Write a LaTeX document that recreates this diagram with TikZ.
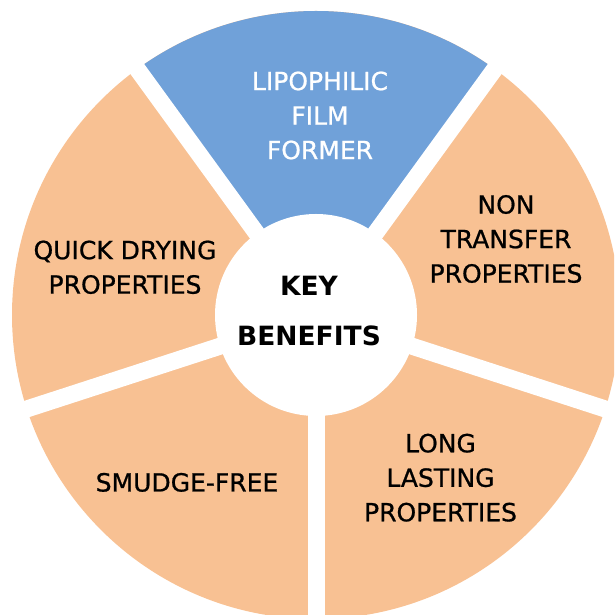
\documentclass[tikz,border=0pt]{standalone}
\usepackage{fontspec}
\setmainfont{DejaVu Sans}
\newfontfamily\heavyfont[FakeBold=0.8]{DejaVu Sans}
\definecolor{peach}{HTML}{F8C193}
\definecolor{skyblue}{HTML}{70A1D9}
\begin{document}
\begin{tikzpicture}[x=1pt,y=1pt,
  lbl/.style={align=center,text=black,font=\heavyfont\fontsize{25}{34.5}\selectfont},
  lblw/.style={lbl,text=white},
  keylbl/.style={align=center,text=black,font=\fontsize{26.5}{50}\selectfont\bfseries},
  gapband/.style={draw=white,line width=17pt}]
\useasboundingbox (0,0) rectangle (614,615);
\coordinate (c) at (316,300);
\begin{scope}
\clip (0,0) rectangle (614,615);
\fill[peach] (c) circle[radius=304];
\fill[skyblue] (c) -- ++(54:304) arc[start angle=54,end angle=126,radius=304] -- cycle;
\foreach \a in {54,126,198,270,342}{
  \draw[gapband] (c) -- ++(\a:330);
}
\fill[white] (c) circle[radius=101];
\end{scope}
\node[lblw] (film) at (320,499.5) {LIPOPHILIC\\FILM\\FORMER};
\node[lbl] (nontr) at (506,376) {NON\\TRANSFER\\PROPERTIES};
\node[lbl] (quick) at (125,347.7) {QUICK DRYING\\PROPERTIES};
\node[keylbl] (key) at (309,304) {KEY\\BENEFITS};
\node[lbl] (smudge) at (187,132.6) {SMUDGE-FREE};
\node[lbl] (long) at (440.5,137.3) {LONG\\LASTING\\PROPERTIES};
\end{tikzpicture}
\end{document}
